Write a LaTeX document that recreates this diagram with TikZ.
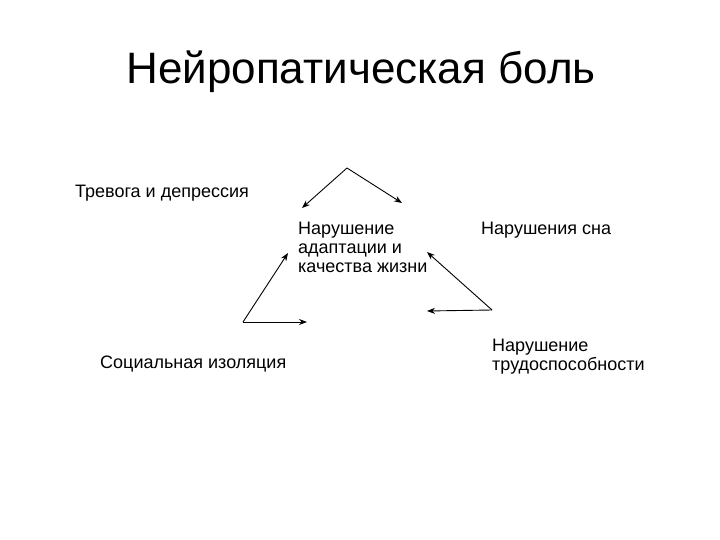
\documentclass[tikz,border=0pt]{standalone}
\usepackage{fontspec}
\setmainfont{Liberation Sans}
\usetikzlibrary{arrows.meta}
\begin{document}
\begin{tikzpicture}[x=1pt,y=-1pt,
  lbl/.style={anchor=base west,inner sep=0pt,font=\fontsize{18}{19}\selectfont,align=left},
  mlbl/.style={lbl,anchor=north west},
  arr/.style={-{Stealth[length=8pt,width=6pt]},line width=0.9pt}]
\useasboundingbox (0,0) rectangle (720,540);
\node[anchor=base,inner sep=0pt,font=\fontsize{44}{50}\selectfont] (title) at (361,84) {Нейропатическая боль};
\node[lbl] (t1) at (75,198) {Тревога и депрессия};
\node[mlbl] (t2) at (298,222) {Нарушение\\адаптации и\\качества жизни};
\node[lbl] (t3) at (481,234) {Нарушения сна};
\node[lbl] (t4) at (100,368) {Социальная изоляция};
\node[mlbl] (t5) at (492,339) {Нарушение\\трудоспособности};
\coordinate (a) at (347,168);
\coordinate (a1) at (302,208);
\coordinate (a2) at (402,203);
\coordinate (b) at (243,322);
\coordinate (b1) at (288,253);
\coordinate (b2) at (307,322);
\coordinate (c) at (492,310);
\coordinate (c1) at (427,252);
\coordinate (c2) at (427,311);
\draw[arr] (a) -- (a1);
\draw[arr] (a) -- (a2);
\draw[arr] (b) -- (b1);
\draw[arr] (b) -- (b2);
\draw[arr] (c) -- (c1);
\draw[arr] (c) -- (c2);
\end{tikzpicture}
\end{document}
